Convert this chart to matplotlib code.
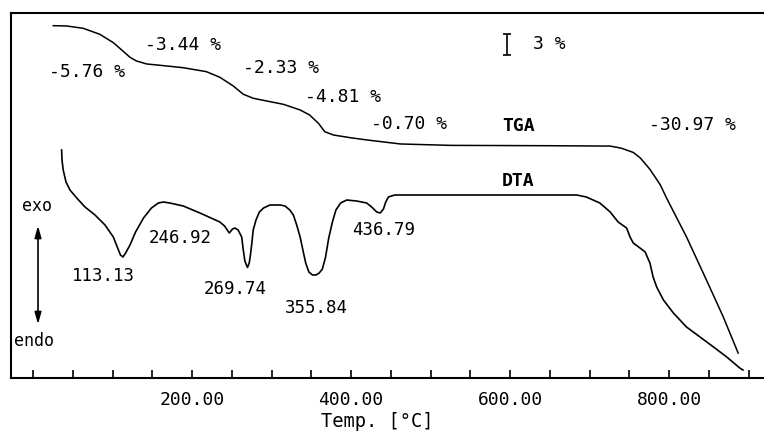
import matplotlib
matplotlib.use("Agg")
import matplotlib.pyplot as plt

plt.rcParams['font.family'] = ['DejaVu Sans Mono', 'DejaVu Sans']

# DTA trace: temperature (°C) and signal (arbitrary units)
dta_temp = [36, 36.5, 38, 41.5, 46.5, 55, 65.4, 78, 90.6, 101, 106, 110, 113.13, 116.5,
            122, 129, 139, 149, 157.6, 164, 172, 189, 210, 235, 241, 246.92, 251, 254,
            258, 262.5, 264.5, 266.5, 269.74, 272, 273.5, 275, 277, 280.5, 284.7, 290,
            298, 311, 317, 323, 327.5, 331.7, 336, 340, 343, 347, 351.6, 355.84, 360,
            364, 368, 372, 376.6, 381, 387, 394.6, 407, 419.7, 426, 432.4, 436.79,
            440.8, 443.7, 447, 455, 470, 560, 684, 696, 713, 726, 736, 746.7, 751, 755,
            763.5, 770, 776, 778, 780, 784.5, 793, 805.5, 822, 839, 856, 872.6, 889, 893]
dta_signal = [22.8, 21.8, 20.8, 19.6, 18.8, 18.0, 17.1, 16.3, 15.3, 14.1, 13.1, 12.3,
              12.1, 12.5, 13.3, 14.6, 16.0, 17.0, 17.5, 17.6, 17.5, 17.2, 16.5, 15.6,
              15.2, 14.5, 14.9, 15.0, 14.8, 14.1, 12.8, 11.7, 11.05, 11.5, 12.3, 13.3,
              14.8, 15.8, 16.6, 17.0, 17.3, 17.3, 17.2, 16.8, 16.3, 15.3, 14.1, 12.6,
              11.5, 10.6, 10.3, 10.3, 10.5, 10.9, 12.1, 14.0, 15.6, 16.8, 17.5, 17.8,
              17.7, 17.5, 17.1, 16.6, 16.5, 16.9, 17.6, 18.1, 18.3, 18.3, 18.3, 18.3,
              18.1, 17.5, 16.6, 15.6, 15.0, 14.1, 13.5, 13.0, 12.6, 11.5, 10.8, 10.1,
              9.1, 7.8, 6.5, 5.1, 4.1, 3.1, 2.1, 1.0, 0.8]

# TGA trace: temperature (°C) and residual mass (%)
tga_temp = [25.5, 42, 63, 84, 101, 114, 122, 130, 143, 160, 189, 218, 235, 252, 264.5,
            277, 294, 315, 336, 348, 359, 367, 378, 399, 420, 462, 525, 650, 726, 740,
            755, 764, 776, 789, 797, 822, 847, 868, 887]
tga_mass = [100.0, 99.96, 99.63, 98.78, 97.59, 96.31, 95.51, 94.99, 94.56, 94.37, 94.03,
            93.47, 92.67, 91.43, 90.26, 89.69, 89.3, 88.83, 88.03, 87.31, 86.14, 84.94,
            84.47, 84.09, 83.77, 83.2, 83.0, 82.95, 82.9, 82.6, 82.0, 81.2, 79.6, 77.4,
            75.5, 70.0, 63.9, 58.7, 53.5]

# peak temperatures and mass-loss steps
peak_temps = [113.13, 246.92, 269.74, 355.84, 436.79]
mass_losses = [-5.76, -3.44, -2.33, -4.81, -0.70, -30.97]

tick_values = list(range(0, 901, 50))
labelled_ticks = [200, 400, 600, 800]

fig = plt.figure(figsize=(7.64, 4.44), dpi=100)
ax = fig.add_axes([10.5 / 764, 66 / 444, 755.5 / 764, 365 / 444])
ax2 = ax.twinx()

ax.plot(dta_temp, dta_signal, color='black', lw=1.2, solid_joinstyle='round')
ax2.plot(tga_temp, tga_mass, color='black', lw=1.1, solid_joinstyle='round')

ax.set_xlim(-28.3, 922)
ax.set_ylim(0, 36.5)
ax2.set_ylim(49.96, 101.8)

# x axis: inward ticks every 50 °C, labels every 200 °C
ax.set_xticks(tick_values)
ax.set_xticklabels([f"{t:.2f}" if t in labelled_ticks else "" for t in tick_values],
                   fontsize=13)
ax.tick_params(axis='x', direction='in', length=6, width=1.2, pad=9)
ax.set_yticks([])
ax2.set_yticks([])
ax.set_xlabel("Temp. [°C]", fontsize=13.5)
ax.xaxis.set_label_coords(0.485, -0.12)
ax.xaxis.label.set_va('center')

for side in ['left', 'top', 'bottom']:
    ax.spines[side].set_linewidth(1.5)
ax.spines['right'].set_visible(False)
for side in ax2.spines:
    ax2.spines[side].set_visible(False)

# mass-loss labels along the TGA curve
loss_pos = [(68, 30.6), (189, 33.3), (312, 31.0), (390, 28.1), (473, 25.4), (830, 25.3)]
for v, (x, y) in zip(mass_losses, loss_pos):
    ax.text(x, y, f"{v:.2f} %", fontsize=13, ha='center', va='center')

# peak labels on the DTA curve
peak_pos = [(89, 10.2), (185, 14.0), (254, 8.9), (356, 7.0), (441.5, 14.8)]
for t, (x, y) in zip(peak_temps, peak_pos):
    ax.text(x, y, f"{t:.2f}", fontsize=12.5, ha='center', va='center')

ax.text(611, 25.2, "TGA", fontsize=13, ha='center', va='center', fontweight='bold')
ax.text(610, 19.7, "DTA", fontsize=13, ha='center', va='center', fontweight='bold')

# 3 % mass scale bar
ax2.errorbar([596], [97.33], yerr=1.5, fmt='none', ecolor='black', elinewidth=1.2,
             capsize=3, capthick=1.2)
ax.text(650, 33.4, "3 %", fontsize=13, ha='center', va='center')

# exo / endo direction
ax.annotate("", xy=(6.3, 5.1), xytext=(6.3, 15.5),
            arrowprops=dict(arrowstyle='<|-|>,head_length=0.7,head_width=0.2',
                            color='black', lw=1.2))
ax.text(5, 17.2, "exo", fontsize=12, ha='center', va='center')
ax.text(1.3, 3.7, "endo", fontsize=12, ha='center', va='center')

fig.savefig("out.png", dpi=100)
